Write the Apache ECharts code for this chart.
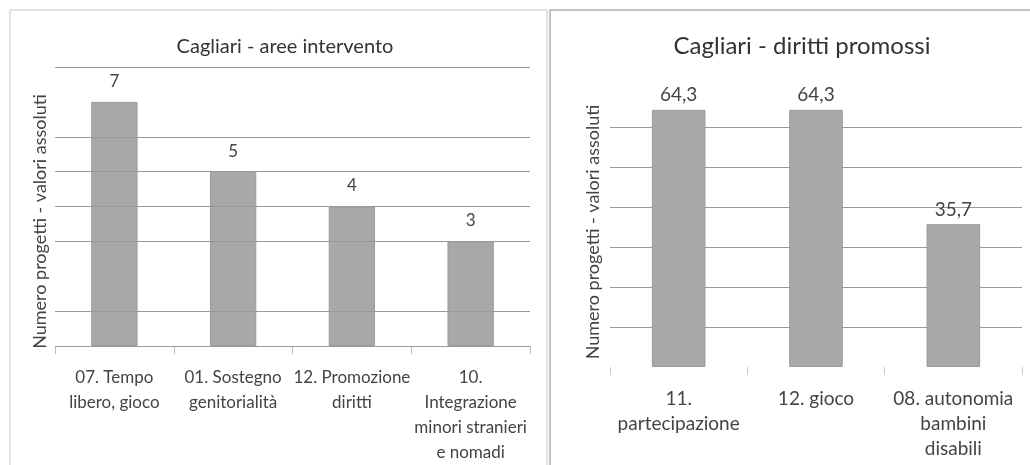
<!DOCTYPE html>
<html><head><meta charset="utf-8">
<script src="https://cdn.jsdelivr.net/npm/echarts@6/dist/echarts.min.js"></script>
<style>html,body{margin:0;padding:0;background:#fff}#c{width:1030px;height:465px}</style>
</head><body><div id="c"></div>
<script>
const leftTitle = 'Cagliari - aree intervento';
const leftCategories = ['07. Tempo\nlibero, gioco', '01. Sostegno\ngenitorialità', '12. Promozione\ndiritti', '10.\nIntegrazione\nminori stranieri\ne nomadi'];
const leftValues = [7, 5, 4, 3];
const leftGridValues = [0, 1, 3, 4, 5, 6, 8];

const rightTitle = 'Cagliari - diritti promossi';
const rightCategories = ['11.\npartecipazione', '12. gioco', '08. autonomia\nbambini\ndisabili'];
const rightValues = [64.3, 64.3, 35.7];

const yName = 'Numero progetti - valori assoluti';
const FONT = 'Lato, "Open Sans", sans-serif';
const fmt = p => String(p.value).replace('.', ',');

const chart = echarts.init(document.getElementById('c'), null, {renderer: 'canvas'});
chart.setOption({
  backgroundColor: '#fff',
  animation: false,
  graphic: [
    {type: 'rect', shape: {x: 10, y: 10, width: 537, height: 470}, style: {fill: 'none', stroke: '#c8c8c8', lineWidth: 1}, silent: true},
    {type: 'rect', shape: {x: 550, y: 10, width: 500, height: 470}, style: {fill: 'none', stroke: '#b0b0b0', lineWidth: 1.5}, silent: true}
  ],
  title: [
    {text: leftTitle, left: 280, top: 32, textAlign: 'center', textStyle: {fontFamily: FONT, fontSize: 20, fontWeight: 'normal', color: '#333'}},
    {text: rightTitle, left: 797, top: 29, textAlign: 'center', textStyle: {fontFamily: FONT, fontSize: 24, fontWeight: 'normal', color: '#333'}}
  ],
  grid: [
    {left: 55, right: 500, top: 67, bottom: 115},
    {left: 610, right: 8, top: 87, bottom: 98}
  ],
  xAxis: [
    {type: 'category', gridIndex: 0, data: leftCategories,
     axisLine: {show: false},
     axisTick: {show: true, length: 8, lineStyle: {color: '#bbb'}},
     axisLabel: {fontFamily: FONT, fontSize: 17, color: '#444', lineHeight: 25, margin: 19, interval: 0}},
    {type: 'category', gridIndex: 1, data: rightCategories,
     axisLine: {show: false},
     axisTick: {show: true, length: 8, lineStyle: {color: '#ccc'}},
     axisLabel: {fontFamily: FONT, fontSize: 19, color: '#444', lineHeight: 25, margin: 19, interval: 0}}
  ],
  yAxis: [
    {type: 'value', gridIndex: 0, min: 0, max: 8, interval: 1,
     name: yName, nameLocation: 'middle', nameGap: 6, nameRotate: 90,
     nameTextStyle: {fontFamily: FONT, fontSize: 18, color: '#444', padding: [0, 30, 0, 0]},
     axisLabel: {show: false}, axisTick: {show: false}, axisLine: {show: false}, splitLine: {show: false}},
    {type: 'value', gridIndex: 1, min: 0, max: 70, interval: 10,
     name: yName, nameLocation: 'middle', nameGap: 8, nameRotate: 90,
     nameTextStyle: {fontFamily: FONT, fontSize: 18, color: '#444', padding: [0, 10, 0, 0]},
     axisLabel: {show: false}, axisTick: {show: false}, axisLine: {show: false},
     splitLine: {show: true, showMinLine: false, showMaxLine: false, lineStyle: {color: '#9a9a9a', width: 1}}}
  ],
  series: [
    {type: 'bar', xAxisIndex: 0, yAxisIndex: 0, data: leftValues, barWidth: '39%',
     itemStyle: {color: '#a8a8a8', borderColor: '#9a9a9a', borderWidth: 1},
     label: {show: true, position: 'top', distance: 12, formatter: fmt, fontFamily: FONT, fontSize: 17, color: '#444'},
     markLine: {silent: true, symbol: 'none', label: {show: false},
       lineStyle: {color: '#9a9a9a', width: 1, type: 'solid'},
       data: leftGridValues.map(v => ({yAxis: v}))},
     z: 3},
    {type: 'bar', xAxisIndex: 1, yAxisIndex: 1, data: rightValues, barWidth: '39%',
     itemStyle: {color: '#a8a8a8', borderColor: '#9a9a9a', borderWidth: 1},
     label: {show: true, position: 'top', distance: 5, formatter: fmt, fontFamily: FONT, fontSize: 19, color: '#444'},
     z: 3}
  ]
});
</script></body></html>
